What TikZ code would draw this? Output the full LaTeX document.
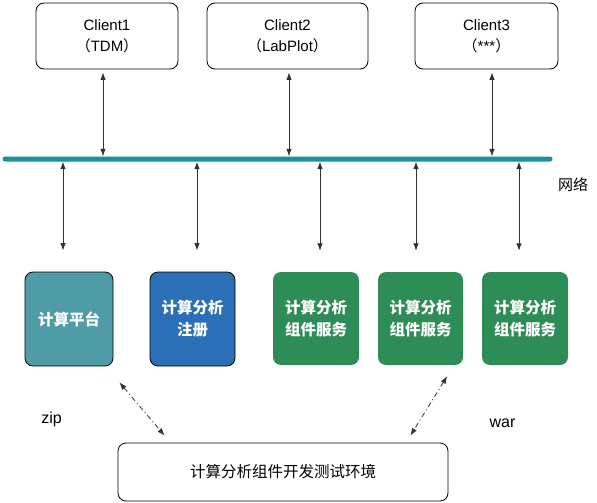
\documentclass[tikz,border=0pt]{standalone}
\usepackage{fontspec}
\setmainfont{Liberation Sans}
\newfontfamily\cjk{Noto Sans CJK SC}
\usepackage{xcolor}
\usepackage{tikz}
\usetikzlibrary{arrows.meta, positioning, calc}
\definecolor{busteal}{HTML}{1F8F98}
\definecolor{calcteal}{HTML}{4F9CA6}
\definecolor{regblue}{HTML}{2B6FB7}
\definecolor{svcgreen}{HTML}{2E8C57}
\tikzset{
    base/.style={font=\fontsize{15}{21}\selectfont, align=center, inner sep=0pt},
    client/.style={base, draw=black, line width=0.8pt, rectangle, rounded corners=8pt, minimum height=66pt, text=black},
    tile/.style={base, rectangle, rounded corners=8pt, minimum height=94pt, text=white, font=\fontsize{15.5}{22}\selectfont\cjk\bfseries},
    tileline/.style={tile, draw=black, line width=0.8pt},
    devbox/.style={base, draw=black, line width=0.8pt, rectangle, rounded corners=8pt, minimum width=330pt, minimum height=58pt, font=\fontsize{15.5}{20}\selectfont\cjk},
    busbar/.style={fill=busteal, rectangle, rounded corners=2.5pt, inner sep=0pt, minimum height=5pt},
    line/.style={draw=black!80, line width=0.8pt, {Latex[length=7.5pt,width=5.5pt]}-{Latex[length=7.5pt,width=5.5pt]}},
    dashdot-line/.style={draw=black!80, line width=0.8pt, dash pattern=on 5pt off 3pt on 1pt off 3pt, {Latex[length=7.5pt,width=5.5pt]}-{Latex[length=7.5pt,width=5.5pt]}},
    tag/.style={font=\fontsize{16}{16}\selectfont, inner sep=0pt}
}

\begin{document}
\begin{tikzpicture}[x=1pt, y=-1pt]
    \useasboundingbox (0,0) rectangle (597,503);

    \node [client, minimum width=142pt] (Client1) at (107,36) {Client1\\{\cjk （}TDM{\cjk ）}};
    \node [client, minimum width=161pt] (Client2) at (287.5,36) {Client2\\{\cjk （}LabPlot{\cjk ）}};
    \node [client, minimum width=143pt] (Client3) at (486.5,36) {Client3\\{\cjk （}***{\cjk ）}};

    \node [busbar, minimum width=550pt] (Bus) at (277.5,159) {};
    \node [tag, font=\fontsize{15}{15}\selectfont\cjk] (Net) at (573,185) {网络};

    \node [tileline, fill=calcteal, minimum width=88pt] (Calc) at (69,319) {计算平台};
    \node [tileline, fill=regblue, minimum width=85pt] (Reg) at (192.5,319) {计算分析\\注册};
    \node [tile, fill=svcgreen, minimum width=86pt, minimum height=93pt] (SvcA) at (316,318.5) {计算分析\\组件服务};
    \node [tile, fill=svcgreen, minimum width=85pt, minimum height=93pt] (SvcB) at (420.5,318.5) {计算分析\\组件服务};
    \node [tile, fill=svcgreen, minimum width=86pt, minimum height=93pt] (SvcC) at (525,318.5) {计算分析\\组件服务};

    \node [devbox] (DevEnv) at (283,472) {计算分析组件开发测试环境};
    \node [tag] (Zip) at (51.5,419) {zip};
    \node [tag] (War) at (502.5,423) {war};

    \draw [line, shorten <=3pt] ([xshift=-4pt]Client1.south) -- ([xshift=-4pt]Client1.south |- Bus.north);
    \draw [line, shorten <=3pt] ([xshift=1.5pt]Client2.south) -- ([xshift=1.5pt]Client2.south |- Bus.north);
    \draw [line, shorten <=3pt] ([xshift=5.5pt]Client3.south) -- ([xshift=5.5pt]Client3.south |- Bus.north);

    \draw [line, shorten >=21pt] ([xshift=-6pt]Calc.north |- Bus.south) -- ([xshift=-6pt]Calc.north);
    \draw [line, shorten >=21pt] ([xshift=4.5pt]Reg.north |- Bus.south) -- ([xshift=4.5pt]Reg.north);
    \draw [line, shorten >=21pt] ([xshift=4pt]SvcA.north |- Bus.south) -- ([xshift=4pt]SvcA.north);
    \draw [line, shorten >=21pt] ([xshift=-4.5pt]SvcB.north |- Bus.south) -- ([xshift=-4.5pt]SvcB.north);
    \draw [line, shorten >=21pt] ([xshift=-6pt]SvcC.north |- Bus.south) -- ([xshift=-6pt]SvcC.north);

    \draw [dashdot-line] ([shift={(6,16)}]Calc.south east) -- ([shift={(47,-7)}]DevEnv.north west);
    \draw [dashdot-line] ([shift={(-16,11)}]SvcB.south east) -- ([shift={(-38,-7)}]DevEnv.north east);
\end{tikzpicture}
\end{document}
